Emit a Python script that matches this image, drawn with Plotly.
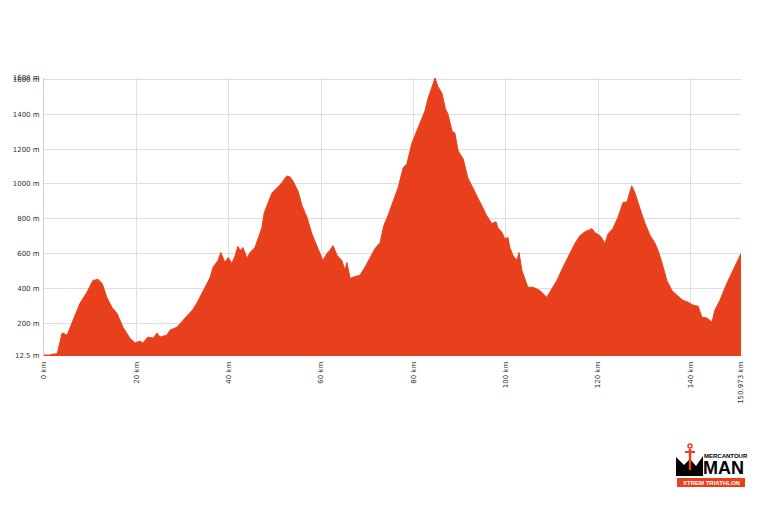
import plotly.graph_objects as go

# ---- data (distance in km, elevation in m) ----
distance_km = [
    0, 1.3, 1.95, 2.8, 3.0, 3.9, 4.1, 5.0, 6.3, 7.8, 9.3, 10.6, 11.7, 12.6, 13.6, 14.7,
    15.8, 17.1, 18.6, 19.7, 20.8, 21.4, 22.5, 23.6, 24.5, 25.1, 26.6, 27.3, 28.8, 30.1,
    31.6, 32.3, 33.1, 34.4, 36.0, 36.6, 37.7, 38.3, 39.2, 39.9, 40.7, 41.4, 42.0, 42.5,
    43.1, 44.0, 44.6, 45.7, 46.4, 47.2, 47.7, 48.5, 49.4, 50.5, 51.5, 52.6, 53.3, 53.9,
    55.0, 55.9, 57.0, 58.0, 59.1, 60.4, 61.3, 61.9, 62.6, 63.5, 64.5, 65.2, 65.6, 66.3,
    67.4, 68.4, 69.5, 70.6, 71.7, 72.8, 73.6, 74.5, 75.6, 76.7, 77.8, 78.6, 79.7, 80.8,
    81.4, 82.5, 83.2, 84.0, 84.7, 85.3, 86.2, 86.9, 87.5, 88.4, 89.0, 89.7, 90.8, 91.8,
    92.9, 94.4, 95.9, 97.0, 97.9, 98.3, 99.2, 99.8, 100.5, 100.9, 101.6, 102.4, 102.9,
    103.5, 104.2, 104.8, 105.9, 107.4, 108.9, 110.0, 111.1, 112.4, 113.9, 115.0, 116.1,
    117.2, 118.7, 119.3, 120.4, 120.9, 121.5, 122.2, 123.2, 124.3, 125.4, 126.3, 127.3,
    128.0, 129.1, 130.2, 131.3, 132.3, 133.0, 133.9, 134.9, 136.0, 137.1, 138.4, 139.5,
    140.6, 141.7, 142.5, 143.6, 144.7, 145.3, 146.4, 147.9, 149.2, 150.973,
]
elevation_m = [
    18, 18, 24, 24, 40, 143, 143, 132, 218, 315, 378, 446, 452, 429, 349, 292,
    258, 178, 115, 87, 98, 87, 121, 115, 144, 121, 132, 161, 178, 218,
    264, 281, 315, 378, 464, 521, 561, 606, 549, 578, 544, 589, 641, 618,
    635, 572, 606, 635, 692, 749, 835, 892, 949, 978, 1006, 1046, 1040, 1018,
    960, 875, 806, 715, 646, 561, 601, 618, 646, 589, 561, 504, 549, 458,
    469, 475, 521, 578, 629, 663, 761, 818, 903, 978, 1092, 1115, 1235, 1303,
    1349, 1418, 1492, 1549, 1608, 1560, 1520, 1435, 1400, 1303, 1292, 1189, 1143, 1035,
    978, 903, 818, 772, 783, 749, 721, 686, 692, 635, 589, 561, 606,
    504, 458, 407, 407, 389, 349, 401, 446, 521, 601, 658, 703,
    726, 743, 721, 703, 686, 658, 715, 743, 806, 892, 898, 989,
    949, 858, 772, 703, 663, 618, 544, 446, 389, 361, 332, 321,
    304, 298, 235, 230, 207, 275, 332, 429, 504, 601,
]

x_tick_vals = [0, 20, 40, 60, 80, 100, 120, 140, 150.973]
x_tick_text = ["0 km", "20 km", "40 km", "60 km", "80 km", "100 km", "120 km", "140 km", "150.973 km"]
y_tick_vals = [12.5, 200, 400, 600, 800, 1000, 1200, 1400, 1600, 1608]
y_tick_text = ["12.5 m", "200 m", "400 m", "600 m", "800 m", "1000 m", "1200 m", "1400 m", "1600 m", "1608 m"]

FILL = "#E8401C"
OFF = 8  # page body margin
W, H = 760, 499
ML, MR, MT, MB = 36, 27, 70, 151
PW, PH = W - ML - MR, H - MT - MB


def px(x):  # page pixel -> paper
    return (x - OFF - ML) / PW


def py(y):
    return (H - MB - (y - OFF)) / PH


fig = go.Figure()
fig.add_trace(go.Scatter(
    x=distance_km, y=elevation_m, mode="lines", fill="tozeroy",
    line=dict(color=FILL, width=1), fillcolor=FILL, hoverinfo="skip",
))

tick_font = dict(family="DejaVu Sans, Verdana, sans-serif", size=7, color="#333")
fig.update_layout(
    width=W, height=H,
    margin=dict(l=ML, r=MR, t=MT, b=MB, pad=0, autoexpand=False),
    paper_bgcolor="white", plot_bgcolor="white",
    showlegend=False,
    xaxis=dict(
        range=[0, 150.973], tickvals=x_tick_vals, ticktext=x_tick_text,
        tickangle=-90, tickfont=tick_font, showgrid=True, gridcolor="#dedede",
        gridwidth=1, zeroline=False, showline=False, ticks="outside", ticklen=2,
        tickcolor="white", automargin=False,
    ),
    yaxis=dict(
        range=[12.5, 1608], tickvals=y_tick_vals, ticktext=y_tick_text,
        tickfont=tick_font, showgrid=True, gridcolor="#dedede", gridwidth=1,
        zeroline=False, showline=True, linecolor="#cccccc", linewidth=1,
        ticks="outside", ticklen=2, tickcolor="white", automargin=False,
    ),
)

# ---- logo (bottom right) ----
fig.add_shape(type="rect", xref="paper", yref="paper",
              x0=px(677), x1=px(745), y0=py(487), y1=py(478),
              fillcolor=FILL, line=dict(width=0), layer="above")
fig.add_annotation(xref="paper", yref="paper", x=px(711), y=py(482.5),
                   text="<b>XTREM TRIATHLON</b>", showarrow=False,
                   font=dict(family="Liberation Sans", size=6, color="white"),
                   xanchor="center", yanchor="middle")
fig.add_annotation(xref="paper", yref="paper", x=px(701), y=py(468),
                   text="<b>MAN</b>", showarrow=False,
                   font=dict(family="Liberation Sans", size=18, color="black"),
                   xanchor="left", yanchor="middle")
fig.add_annotation(xref="paper", yref="paper", x=px(702), y=py(456),
                   text="<b>MERCANTOUR</b>", showarrow=False,
                   font=dict(family="Liberation Sans", size=6, color="black"),
                   xanchor="left", yanchor="middle")
mpts = [(676, 476), (676, 457), (684, 465), (690, 459), (696, 466), (703, 456), (703, 476)]
path = "M " + " L ".join(f"{px(a):.5f},{py(b):.5f}" for a, b in mpts) + " Z"
fig.add_shape(type="path", xref="paper", yref="paper", path=path,
              fillcolor="black", line=dict(width=0), layer="above")
fig.add_shape(type="line", xref="paper", yref="paper",
              x0=px(690), x1=px(690), y0=py(449), y1=py(470),
              line=dict(color=FILL, width=2.5), layer="above")
fig.add_shape(type="line", xref="paper", yref="paper",
              x0=px(685), x1=px(695), y0=py(452), y1=py(452),
              line=dict(color=FILL, width=2), layer="above")
fig.add_shape(type="circle", xref="paper", yref="paper",
              x0=px(688), x1=px(692), y0=py(448), y1=py(444),
              line=dict(color=FILL, width=1.5), layer="above")

fig.write_html("out.html")
